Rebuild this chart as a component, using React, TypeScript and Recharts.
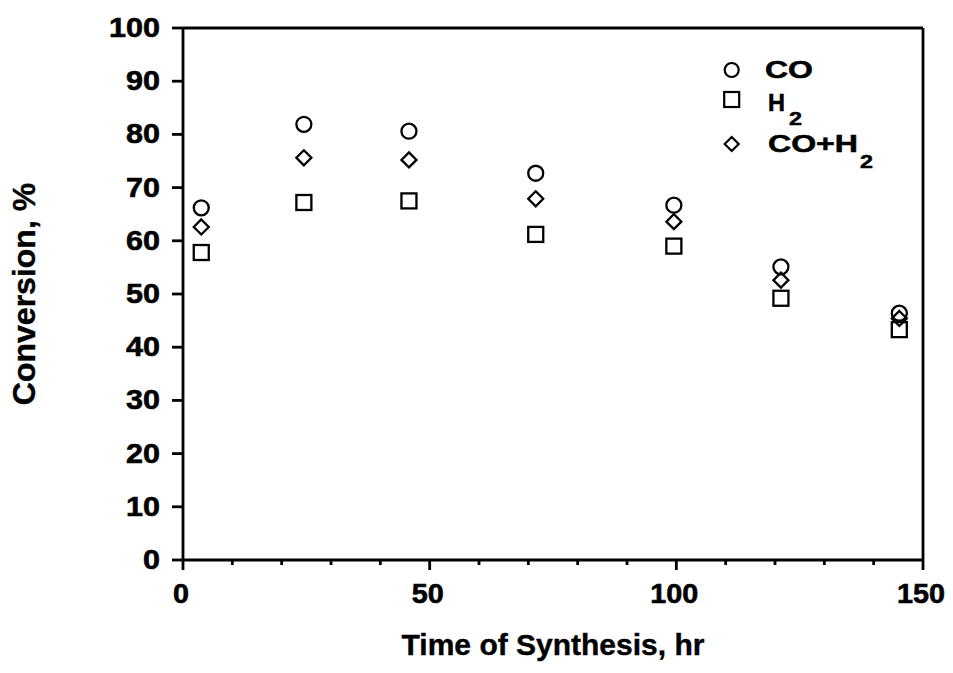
import React from "react";
import {
  ScatterChart,
  Scatter,
  XAxis,
  YAxis,
  ReferenceLine,
  Legend,
  Label,
} from "recharts";

// ---- data ----
const TIME = [3.7, 24.5, 45.8, 71.5, 99.5, 121.2, 145.2];
const CO = [66.2, 81.9, 80.6, 72.7, 66.7, 55.1, 46.4];
const H2 = [57.8, 67.2, 67.5, 61.2, 59.0, 49.2, 43.3];
const CO_H2 = [62.6, 75.6, 75.2, 67.9, 63.6, 52.6, 45.4];

const X_TICKS = [0, 10, 20, 30, 40, 50, 60, 70, 80, 90, 100, 110, 120, 130, 140, 150];
const X_LABELED = [0, 50, 100, 150];
const Y_TICKS = [0, 10, 20, 30, 40, 50, 60, 70, 80, 90, 100];

const X_TITLE = "Time of Synthesis, hr";
const Y_TITLE = "Conversion, %";

const FONT = "'Liberation Sans', Arial, Helvetica, sans-serif";
const INK = "#000";

const toPoints = (vals: number[]) => TIME.map((t, i) => ({ x: t, y: vals[i] }));

const circleShape = (p: any) => (
  <circle cx={p.cx} cy={p.cy} r={7.5} fill="none" stroke={INK} strokeWidth={2.3} />
);
const squareShape = (p: any) => (
  <rect x={p.cx - 7.5} y={p.cy - 7.5} width={15} height={15} fill="none" stroke={INK} strokeWidth={2.3} />
);
const diamondShape = (p: any) => (
  <path
    d={`M${p.cx},${p.cy - 7.5} L${p.cx + 7.5},${p.cy} L${p.cx},${p.cy + 7.5} L${p.cx - 7.5},${p.cy} Z`}
    fill="none"
    stroke={INK}
    strokeWidth={2.3}
  />
);

const YTick = (props: any) => {
  const { x, y, payload } = props;
  const s = String(payload.value);
  return (
    <text
      x={x}
      y={y + 9}
      textAnchor="end"
      fontFamily={FONT}
      fontWeight="bold"
      fontSize={28}
      fill={INK}
      stroke={INK}
      strokeWidth={0.6}
      textLength={s.length * 17}
      lengthAdjust="spacingAndGlyphs"
    >
      {s}
    </text>
  );
};

const XTick = (props: any) => {
  const { x, y, payload } = props;
  const v = payload.value;
  const major = X_LABELED.includes(v);
  const s = String(v);
  return (
    <g>
      <line x1={x} x2={x} y1={y} y2={y + (major ? 10 : 5)} stroke={INK} strokeWidth={2.8} />
      {major && (
        <text
          x={x - 2}
          y={y + 43}
          textAnchor="middle"
          fontFamily={FONT}
          fontWeight="bold"
          fontSize={27}
          fill={INK}
          stroke={INK}
          strokeWidth={0.6}
          textLength={s.length * 16}
          lengthAdjust="spacingAndGlyphs"
        >
          {s}
        </text>
      )}
    </g>
  );
};

const LegendContent = () => {
  const t = { fontFamily: FONT, fontWeight: "bold" as const, fill: INK, stroke: INK, strokeWidth: 0.5 };
  return (
    <svg width={200} height={130} style={{ overflow: "visible" }}>
      <circle cx={16.7} cy={20} r={7} fill="none" stroke={INK} strokeWidth={2.2} />
      <text x={50} y={28} fontSize={23} textLength={48} lengthAdjust="spacingAndGlyphs" {...t}>CO</text>

      <rect x={9.2} y={42} width={15} height={15} fill="none" stroke={INK} strokeWidth={2.2} />
      <text x={53} y={61} fontSize={23} textLength={17} lengthAdjust="spacingAndGlyphs" {...t}>H</text>
      <text x={74} y={75} fontSize={19} textLength={13} lengthAdjust="spacingAndGlyphs" {...t}>2</text>

      <path d="M16.7,87 L23.7,94 L16.7,101 L9.7,94 Z" fill="none" stroke={INK} strokeWidth={2.2} />
      <text x={53} y={101.7} fontSize={23} textLength={90} lengthAdjust="spacingAndGlyphs" {...t}>CO+H</text>
      <text x={145} y={118} fontSize={19} textLength={13} lengthAdjust="spacingAndGlyphs" {...t}>2</text>
    </svg>
  );
};

export default function App() {
  return (
    <div style={{ position: "absolute", left: 0, top: 0, width: 953, height: 673, background: "#fff" }}>
      <ScatterChart width={953} height={673} margin={{ top: 28, right: 30, bottom: 0, left: 0 }}>
        <XAxis
          type="number"
          dataKey="x"
          domain={[0, 150]}
          ticks={X_TICKS}
          interval={0}
          tick={<XTick />}
          tickLine={false}
          tickSize={0}
          tickMargin={0}
          height={113}
          axisLine={{ stroke: INK, strokeWidth: 2.8 }}
        >
          <Label
            value={X_TITLE}
            position="insideBottom"
            offset={18}
            style={{ fontFamily: FONT, fontWeight: "bold", fontSize: 30, fill: INK, stroke: INK, strokeWidth: 0.4 }}
          />
        </XAxis>
        <YAxis
          type="number"
          dataKey="y"
          domain={[0, 100]}
          ticks={Y_TICKS}
          interval={0}
          width={183}
          tickSize={11}
          tickMargin={12}
          tick={<YTick />}
          tickLine={{ stroke: INK, strokeWidth: 2.8 }}
          axisLine={{ stroke: INK, strokeWidth: 2.8 }}
        >
          <Label
            value={Y_TITLE}
            position="insideLeft"
            angle={-90}
            offset={23.5}
            style={{ fontFamily: FONT, fontWeight: "bold", fontSize: 32, fill: INK, stroke: INK, strokeWidth: 0.4, textAnchor: "middle" }}
          />
        </YAxis>
        <ReferenceLine y={100} stroke={INK} strokeWidth={2.8} />
        <ReferenceLine x={150} stroke={INK} strokeWidth={2.8} />
        <Scatter name="CO" data={toPoints(CO)} shape={circleShape} isAnimationActive={false} />
        <Scatter name="H2" data={toPoints(H2)} shape={squareShape} isAnimationActive={false} />
        <Scatter name="CO+H2" data={toPoints(CO_H2)} shape={diamondShape} isAnimationActive={false} />
        <Legend
          layout="horizontal"
          verticalAlign="middle"
          align="center"
          wrapperStyle={{ left: 715, top: 50, width: 200, height: 130 }}
          content={<LegendContent />}
        />
      </ScatterChart>
    </div>
  );
}
